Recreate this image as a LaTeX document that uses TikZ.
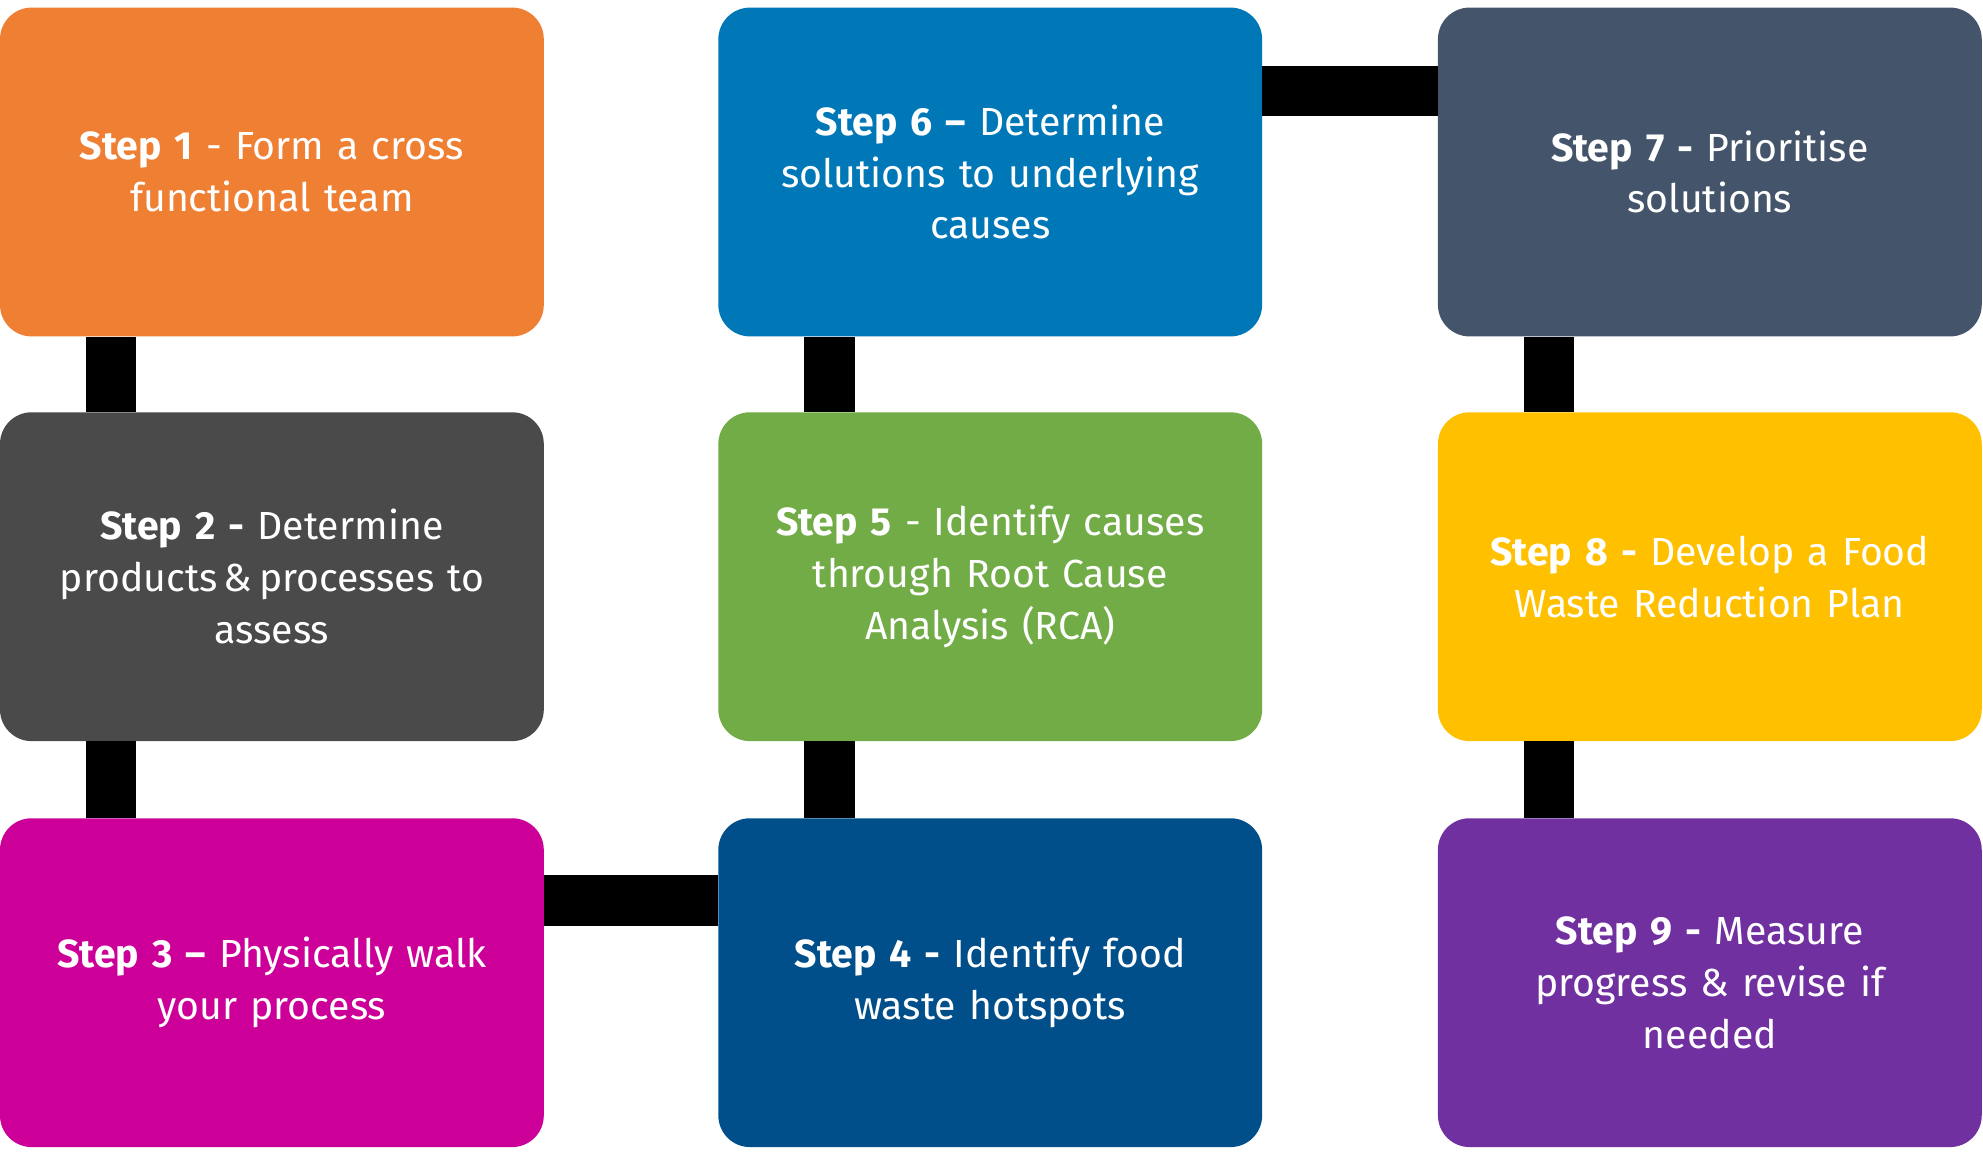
\documentclass[tikz,border=0pt]{standalone}
\usepackage{fontspec}
\setmainfont{Fira Sans}
\begin{document}
\begin{tikzpicture}[x=1pt,y=-1pt,
  box/.style={rounded corners=25pt,minimum width=430pt,minimum height=260pt,text width=400pt,align=center,text=white,inner sep=0pt,font=\fontsize{31}{41}\selectfont},
  conn/.style={line width=40pt,black}]
\useasboundingbox (0,0) rectangle (1568,913);
\definecolor{c1}{HTML}{EF7F33}\definecolor{c2}{HTML}{4A4A4A}\definecolor{c3}{HTML}{CC0099}
\definecolor{c4}{HTML}{004F8A}\definecolor{c5}{HTML}{71AC46}\definecolor{c6}{HTML}{0078B8}
\definecolor{c7}{HTML}{44546A}\definecolor{c8}{HTML}{FFC000}\definecolor{c9}{HTML}{7030A0}
\coordinate (a) at (0,0);
\node[box,fill=c1] (s1) at (215,136) {\textbf{Step 1} - Form a cross\\functional team};
\node[box,fill=c2] (s2) at (215,456) {\textbf{Step 2 -} Determine\\products\,\&\,processes to\\assess};
\node[box,fill=c3] (s3) at (215,777) {\textbf{Step 3 –} Physically walk\\your process};
\node[box,fill=c4] (s4) at (783,777) {\textbf{Step 4 -} Identify food\\waste hotspots};
\node[box,fill=c5] (s5) at (783,456) {\textbf{Step 5} - Identify causes\\through Root Cause\\Analysis (RCA)};
\node[box,fill=c6] (s6) at (783,136) {\textbf{Step 6 –} Determine\\solutions to underlying\\causes};
\node[box,fill=c7] (s7) at (1352,136) {\textbf{Step 7 -} Prioritise\\solutions};
\node[box,fill=c8] (s8) at (1352,456) {\textbf{Step 8 -} Develop a Food\\Waste Reduction Plan};
\node[box,fill=c9] (s9) at (1352,777) {\textbf{Step 9 -} Measure\\progress \& revise if\\needed};
\begin{scope}[on background layer/.style={}]
\end{scope}
\draw[conn] ([xshift=88pt]s1.south west) -- ([xshift=88pt]s2.north west);
\draw[conn] ([xshift=88pt]s2.south west) -- ([xshift=88pt]s3.north west);
\draw[conn] ([yshift=65pt]s3.east) -- ([yshift=65pt]s4.west);
\draw[conn] ([xshift=88pt]s4.north west) -- ([xshift=88pt]s5.south west);
\draw[conn] ([xshift=88pt]s5.north west) -- ([xshift=88pt]s6.south west);
\draw[conn] ([yshift=64pt]s6.east) -- ([yshift=64pt]s7.west);
\draw[conn] ([xshift=88pt]s7.south west) -- ([xshift=88pt]s8.north west);
\draw[conn] ([xshift=88pt]s8.south west) -- ([xshift=88pt]s9.north west);
\end{tikzpicture}
\end{document}
